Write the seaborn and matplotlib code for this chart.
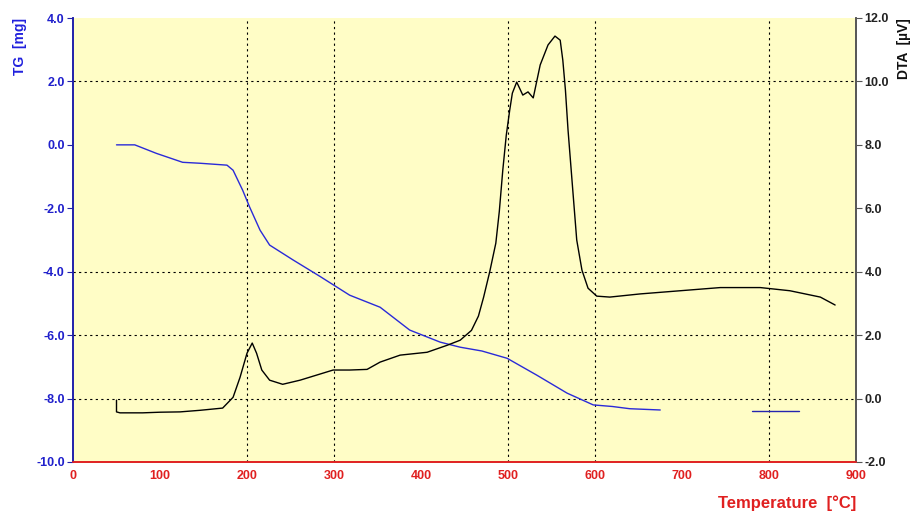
import matplotlib
matplotlib.use("Agg")
import matplotlib.pyplot as plt
import pandas as pd
import seaborn as sns

# TG curve (mg) vs temperature, first segment and the short tail segment
tg_temp = [50, 71, 96, 126, 146, 177, 184, 195, 203, 215, 226, 253, 284, 318,
           353, 387, 422, 445, 470, 499, 533, 568, 598, 620, 640, 675]
tg_mass = [0.0, 0.0, -0.27, -0.55, -0.58, -0.64, -0.8, -1.43, -1.96, -2.69, -3.16,
           -3.63, -4.15, -4.74, -5.12, -5.84, -6.22, -6.38, -6.5, -6.73, -7.26,
           -7.83, -8.2, -8.25, -8.32, -8.36]
tg_tail_temp = [780, 800, 820, 834]
tg_tail_mass = [-8.4, -8.4, -8.4, -8.4]

# DTA curve (uV)
dta_temp = [50, 50, 54, 80, 100, 123, 146, 172, 184, 192, 200, 206, 211, 217,
            226, 241, 261, 280, 299, 318, 338, 353, 376, 407, 430, 445, 458, 466,
            472, 479, 486, 490, 494, 498, 502, 505, 510, 517, 523, 529, 537, 546,
            554, 560, 563, 566, 569, 574, 579, 585, 592, 602, 617, 652, 698, 744,
            790, 824, 859, 876]
dta_signal = [-0.05, -0.42, -0.45, -0.45, -0.43, -0.42, -0.37, -0.3, 0.04, 0.67,
              1.43, 1.75, 1.43, 0.9, 0.58, 0.45, 0.58, 0.74, 0.9, 0.9, 0.92, 1.15,
              1.37, 1.46, 1.68, 1.84, 2.15, 2.6, 3.2, 4.0, 4.9, 5.9, 7.2, 8.3, 9.1,
              9.63, 9.98, 9.57, 9.67, 9.48, 10.52, 11.15, 11.43, 11.3, 10.67, 9.73,
              8.47, 6.73, 5.0, 4.05, 3.48, 3.23, 3.2, 3.3, 3.4, 3.5, 3.5, 3.4, 3.2,
              2.95]

x_ticks = list(range(0, 1000, 100))
tg_ticks = [4.0, 2.0, 0.0, -2.0, -4.0, -6.0, -8.0, -10.0]
dta_ticks = [12.0, 10.0, 8.0, 6.0, 4.0, 2.0, 0.0, -2.0]

sns.set_style("white")
plt.rcParams["font.family"] = ["Liberation Sans Narrow", "Liberation Sans", "DejaVu Sans"]
plt.rcParams["font.weight"] = "bold"

fig = plt.figure(figsize=(9.14, 5.12), dpi=100)
ax = fig.add_axes([73 / 914, 50 / 512, 783 / 914, 444 / 512])
ax2 = ax.twinx()

ax.set_facecolor("#fffdc6")
ax.set_zorder(0)
ax2.set_zorder(1)
ax2.patch.set_visible(False)

tg = pd.DataFrame({"T": tg_temp, "TG": tg_mass})
tg_tail = pd.DataFrame({"T": tg_tail_temp, "TG": tg_tail_mass})
dta = pd.DataFrame({"T": dta_temp, "DTA": dta_signal})

sns.lineplot(data=tg, x="T", y="TG", ax=ax, color="#2a2ad8", linewidth=1.0,
             sort=False, estimator=None)
sns.lineplot(data=tg_tail, x="T", y="TG", ax=ax, color="#2424b0", linewidth=1.0,
             sort=False, estimator=None)
sns.lineplot(data=dta, x="T", y="DTA", ax=ax2, color="black", linewidth=1.0,
             sort=False, estimator=None)

ax.set_xlim(0, 900)
ax.set_ylim(-10, 4)
ax2.set_ylim(-2, 12)

# grid lines only where the original instrument drew them
for gx in [200, 300, 500, 600, 800]:
    ax.axvline(gx, color="black", linestyle=(0, (2, 3)), linewidth=0.8, zorder=0.5)
for gy in [2.0, -4.0, -6.0, -8.0]:
    ax.axhline(gy, color="black", linestyle=(0, (2, 3)), linewidth=0.8, zorder=0.5)

ax.set_xticks(x_ticks)
ax.set_xticklabels([str(t) for t in x_ticks], color="#e02020", fontsize=9, fontweight="bold")
ax.set_yticks(tg_ticks)
ax.set_yticklabels([f"{t:.1f}" for t in tg_ticks], color="#2020cc", fontsize=9, fontweight="bold")
ax2.set_yticks(dta_ticks)
ax2.set_yticklabels([f"{t:.1f}" for t in dta_ticks], color="#222222", fontsize=9, fontweight="bold")

ax.tick_params(axis="x", length=0, pad=6)
ax.tick_params(axis="y", length=4, color="#2020aa", pad=2)
ax2.tick_params(axis="y", length=4, color="#555555", pad=2)

ax.set_xlabel("")
ax.set_ylabel("")
ax2.set_ylabel("")

for a in (ax, ax2):
    a.spines["top"].set_visible(False)
    a.spines["left"].set_color("#2020aa")
    a.spines["bottom"].set_color("#e02020")
    a.spines["right"].set_color("#555555")
    for s in a.spines.values():
        s.set_linewidth(1.2)

fig.text(20 / 914, 1 - 18 / 512, "TG  [mg]", rotation=90, ha="center", va="top",
         color="#2020dd", fontsize=10, fontweight="bold")
fig.text(904 / 914, 1 - 18 / 512, "DTA  [\u00b5V]", rotation=90, ha="center", va="top",
         color="#111111", fontsize=10, fontweight="bold")
fig.text(856 / 914, 1 - 503 / 512, "Temperature  [\u00b0C]", ha="right", va="center",
         color="#e02020", fontsize=12, fontweight="bold")

fig.savefig("out.png", dpi=100, facecolor="white")
